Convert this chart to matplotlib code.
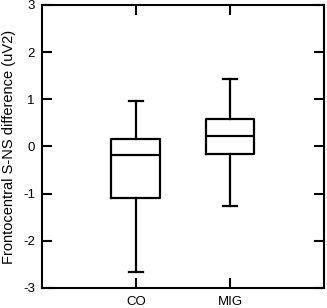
import matplotlib
matplotlib.use('Agg')
import matplotlib.pyplot as plt

plt.rcParams['font.family'] = ['Liberation Sans', 'DejaVu Sans']
plt.rcParams['axes.unicode_minus'] = False

# values
groups = ['CO', 'MIG']
whislo = [-2.66, -1.26]
q1 = [-1.09, -0.16]
med = [-0.19, 0.23]
q3 = [0.16, 0.59]
whishi = [0.97, 1.42]

stats = []
for i, g in enumerate(groups):
    stats.append(dict(label=g, whislo=whislo[i], q1=q1[i], med=med[i],
                      q3=q3[i], whishi=whishi[i], fliers=[]))

fig = plt.figure(figsize=(3.27, 3.08), dpi=100)
ax = fig.add_axes([0.128, 0.065, 0.863, 0.919])

lw = 1.6
ax.bxp(stats, positions=[1, 2], widths=0.52, showfliers=False,
       boxprops=dict(color='black', linewidth=lw),
       medianprops=dict(color='black', linewidth=lw),
       whiskerprops=dict(color='black', linewidth=lw),
       capprops=dict(color='black', linewidth=lw),
       capwidths=0.15)

ax.set_xlim(0, 3)
ax.set_ylim(-3, 3)
ax.set_yticks([-3, -2, -1, 0, 1, 2, 3])
ax.set_xticks([1, 2])
ax.set_xticklabels(groups)
for s in ax.spines.values():
    s.set_linewidth(1.5)
ax.tick_params(direction='in', length=7, width=1.5, labelsize=9.5,
               top=True, right=True)
ax.tick_params(axis='y', pad=5)
ax.tick_params(axis='x', pad=6)
ax.set_ylabel('Frontocentral S-NS difference (uV2)', fontsize=10.5)
ax.yaxis.set_label_coords(-0.09, 0.5)

fig.savefig('out.png', dpi=100)
